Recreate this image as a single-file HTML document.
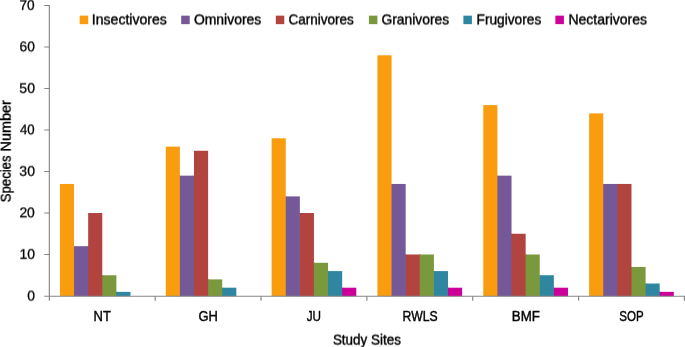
<!DOCTYPE html>
<html><head><meta charset="utf-8"><title>Species Number by Study Sites</title>
<style>
html,body{margin:0;padding:0;background:#fff;}
body{width:685px;height:347px;overflow:hidden;}
svg{display:block;will-change:transform;}
text{font-family:"Liberation Sans",sans-serif;fill:#000;stroke:#000;stroke-width:0.4;}
text.d{text-rendering:geometricPrecision;stroke-width:0.3;}
</style></head><body>
<svg width="685" height="347" viewBox="0 0 685 347">
<defs>
<filter id="v9" x="-15%" y="-25%" width="130%" height="150%"><feConvolveMatrix order="1 2" kernelMatrix="0.55 0.45" divisor="1" targetX="0" targetY="1" edgeMode="none" preserveAlpha="false"/></filter>
<filter id="v1" x="-15%" y="-25%" width="130%" height="150%"><feConvolveMatrix order="1 2" kernelMatrix="0.95 0.05" divisor="1" targetX="0" targetY="1" edgeMode="none" preserveAlpha="false"/></filter>
<filter id="v13" x="-15%" y="-25%" width="130%" height="150%"><feConvolveMatrix order="1 2" kernelMatrix="0.35 0.65" divisor="1" targetX="0" targetY="1" edgeMode="none" preserveAlpha="false"/></filter>
<filter id="v15" x="-15%" y="-25%" width="130%" height="150%"><feConvolveMatrix order="1 2" kernelMatrix="0.25 0.75" divisor="1" targetX="0" targetY="1" edgeMode="none" preserveAlpha="false"/></filter>
<filter id="v5" x="-15%" y="-25%" width="130%" height="150%"><feConvolveMatrix order="1 2" kernelMatrix="0.75 0.25" divisor="1" targetX="0" targetY="1" edgeMode="none" preserveAlpha="false"/></filter>
<filter id="h14" x="-25%" y="-10%" width="150%" height="120%"><feConvolveMatrix order="2 1" kernelMatrix="0.30 0.70" divisor="1" targetX="1" targetY="0" edgeMode="none" preserveAlpha="false"/></filter>
</defs>
<rect x="0" y="0" width="685" height="347" fill="#ffffff"/>
<g>
<rect x="73.45" y="246.20" width="1.6" height="50.00" fill="#F99C0E"/>
<rect x="87.56" y="246.20" width="1.6" height="50.00" fill="#745898"/>
<rect x="101.67" y="275.25" width="1.6" height="20.95" fill="#B24440"/>
<rect x="115.78" y="291.85" width="1.6" height="4.35" fill="#7A983C"/>
<rect x="179.29" y="175.65" width="1.6" height="120.55" fill="#F99C0E"/>
<rect x="193.40" y="175.65" width="1.6" height="120.55" fill="#745898"/>
<rect x="207.51" y="279.40" width="1.6" height="16.80" fill="#B24440"/>
<rect x="221.62" y="287.70" width="1.6" height="8.50" fill="#7A983C"/>
<rect x="285.13" y="196.40" width="1.6" height="99.80" fill="#F99C0E"/>
<rect x="299.24" y="213.00" width="1.6" height="83.20" fill="#745898"/>
<rect x="313.35" y="262.80" width="1.6" height="33.40" fill="#B24440"/>
<rect x="327.47" y="271.10" width="1.6" height="25.10" fill="#7A983C"/>
<rect x="341.58" y="287.70" width="1.6" height="8.50" fill="#2E86A0"/>
<rect x="390.97" y="183.95" width="1.6" height="112.25" fill="#F99C0E"/>
<rect x="405.08" y="254.50" width="1.6" height="41.70" fill="#745898"/>
<rect x="419.20" y="254.50" width="1.6" height="41.70" fill="#B24440"/>
<rect x="433.31" y="271.10" width="1.6" height="25.10" fill="#7A983C"/>
<rect x="447.42" y="287.70" width="1.6" height="8.50" fill="#2E86A0"/>
<rect x="496.81" y="175.65" width="1.6" height="120.55" fill="#F99C0E"/>
<rect x="510.93" y="233.75" width="1.6" height="62.45" fill="#745898"/>
<rect x="525.04" y="254.50" width="1.6" height="41.70" fill="#B24440"/>
<rect x="539.15" y="275.25" width="1.6" height="20.95" fill="#7A983C"/>
<rect x="553.26" y="287.70" width="1.6" height="8.50" fill="#2E86A0"/>
<rect x="602.65" y="183.95" width="1.6" height="112.25" fill="#F99C0E"/>
<rect x="616.77" y="183.95" width="1.6" height="112.25" fill="#745898"/>
<rect x="630.88" y="266.95" width="1.6" height="29.25" fill="#B24440"/>
<rect x="644.99" y="283.55" width="1.6" height="12.65" fill="#7A983C"/>
<rect x="659.10" y="291.85" width="1.6" height="4.35" fill="#2E86A0"/>
<rect x="59.93" y="183.95" width="14.11" height="112.25" fill="#F99C0E"/>
<rect x="74.05" y="246.20" width="14.11" height="50.00" fill="#745898"/>
<rect x="88.16" y="213.00" width="14.11" height="83.20" fill="#B24440"/>
<rect x="102.27" y="275.25" width="14.11" height="20.95" fill="#7A983C"/>
<rect x="116.38" y="291.85" width="14.11" height="4.35" fill="#2E86A0"/>
<rect x="165.78" y="146.60" width="14.11" height="149.60" fill="#F99C0E"/>
<rect x="179.89" y="175.65" width="14.11" height="120.55" fill="#745898"/>
<rect x="194.00" y="150.75" width="14.11" height="145.45" fill="#B24440"/>
<rect x="208.11" y="279.40" width="14.11" height="16.80" fill="#7A983C"/>
<rect x="222.22" y="287.70" width="14.11" height="8.50" fill="#2E86A0"/>
<rect x="271.62" y="138.30" width="14.11" height="157.90" fill="#F99C0E"/>
<rect x="285.73" y="196.40" width="14.11" height="99.80" fill="#745898"/>
<rect x="299.84" y="213.00" width="14.11" height="83.20" fill="#B24440"/>
<rect x="313.95" y="262.80" width="14.11" height="33.40" fill="#7A983C"/>
<rect x="328.07" y="271.10" width="14.11" height="25.10" fill="#2E86A0"/>
<rect x="342.18" y="287.70" width="14.11" height="8.50" fill="#CC0099"/>
<rect x="377.46" y="55.30" width="14.11" height="240.90" fill="#F99C0E"/>
<rect x="391.57" y="183.95" width="14.11" height="112.25" fill="#745898"/>
<rect x="405.68" y="254.50" width="14.11" height="41.70" fill="#B24440"/>
<rect x="419.80" y="254.50" width="14.11" height="41.70" fill="#7A983C"/>
<rect x="433.91" y="271.10" width="14.11" height="25.10" fill="#2E86A0"/>
<rect x="448.02" y="287.70" width="14.11" height="8.50" fill="#CC0099"/>
<rect x="483.30" y="105.10" width="14.11" height="191.10" fill="#F99C0E"/>
<rect x="497.41" y="175.65" width="14.11" height="120.55" fill="#745898"/>
<rect x="511.53" y="233.75" width="14.11" height="62.45" fill="#B24440"/>
<rect x="525.64" y="254.50" width="14.11" height="41.70" fill="#7A983C"/>
<rect x="539.75" y="275.25" width="14.11" height="20.95" fill="#2E86A0"/>
<rect x="553.86" y="287.70" width="14.11" height="8.50" fill="#CC0099"/>
<rect x="589.14" y="113.40" width="14.11" height="182.80" fill="#F99C0E"/>
<rect x="603.25" y="183.95" width="14.11" height="112.25" fill="#745898"/>
<rect x="617.37" y="183.95" width="14.11" height="112.25" fill="#B24440"/>
<rect x="631.48" y="266.95" width="14.11" height="29.25" fill="#7A983C"/>
<rect x="645.59" y="283.55" width="14.11" height="12.65" fill="#2E86A0"/>
<rect x="659.70" y="291.85" width="14.11" height="4.35" fill="#CC0099"/>
</g>
<g stroke="#868686" stroke-width="1.15" fill="none">
<line x1="49.35" y1="4.90" x2="49.35" y2="300.70"/>
<line x1="44.25" y1="296.20" x2="685.0" y2="296.20"/>
<line x1="44.25" y1="254.50" x2="49.35" y2="254.50" stroke-width="1.0"/>
<line x1="44.25" y1="213.00" x2="49.35" y2="213.00" stroke-width="1.0"/>
<line x1="44.25" y1="171.50" x2="49.35" y2="171.50" stroke-width="1.0"/>
<line x1="44.25" y1="130.00" x2="49.35" y2="130.00" stroke-width="1.0"/>
<line x1="44.25" y1="88.50" x2="49.35" y2="88.50" stroke-width="1.0"/>
<line x1="44.25" y1="47.00" x2="49.35" y2="47.00" stroke-width="1.0"/>
<line x1="44.25" y1="5.50" x2="49.35" y2="5.50" stroke-width="1.0"/>
<line x1="155.19" y1="296.20" x2="155.19" y2="300.70"/>
<line x1="261.03" y1="296.20" x2="261.03" y2="300.70"/>
<line x1="366.88" y1="296.20" x2="366.88" y2="300.70"/>
<line x1="472.72" y1="296.20" x2="472.72" y2="300.70"/>
<line x1="578.56" y1="296.20" x2="578.56" y2="300.70"/>
<line x1="684.40" y1="296.20" x2="684.40" y2="300.70"/>
</g>
<g filter="url(#v9)"><text id="L0" x="91.87" y="24" font-size="14.2" textLength="74.97" lengthAdjust="spacingAndGlyphs">Insectivores</text></g>
<g filter="url(#v9)"><text id="L1" x="193.91" y="24" font-size="14.2" textLength="67.41" lengthAdjust="spacingAndGlyphs">Omnivores</text></g>
<g filter="url(#v9)"><text id="L2" x="288.43" y="24" font-size="14.2" textLength="65.32" lengthAdjust="spacingAndGlyphs">Carnivores</text></g>
<g filter="url(#v9)"><text id="L3" x="381.52" y="24" font-size="14.2" textLength="67.58" lengthAdjust="spacingAndGlyphs">Granivores</text></g>
<g filter="url(#v9)"><text id="L4" x="476.53" y="24" font-size="14.2" textLength="64.76" lengthAdjust="spacingAndGlyphs">Frugivores</text></g>
<g filter="url(#v9)"><text id="L5" x="568.39" y="24" font-size="14.2" textLength="78.62" lengthAdjust="spacingAndGlyphs">Nectarivores</text></g>
<g filter="url(#v1)"><text id="C0" x="93.62" y="321" font-size="14.2" textLength="17.36" lengthAdjust="spacingAndGlyphs">NT</text></g>
<g filter="url(#v1)"><text id="C1" x="198.40" y="321" font-size="14.2" textLength="19.43" lengthAdjust="spacingAndGlyphs">GH</text></g>
<g filter="url(#v1)"><text id="C2" x="306.77" y="321" font-size="14.2" textLength="14.31" lengthAdjust="spacingAndGlyphs">JU</text></g>
<g filter="url(#v1)"><text id="C3" x="402.54" y="321" font-size="14.2" textLength="35.04" lengthAdjust="spacingAndGlyphs">RWLS</text></g>
<g filter="url(#v1)"><text id="C4" x="511.85" y="321" font-size="14.2" textLength="28.13" lengthAdjust="spacingAndGlyphs">BMF</text></g>
<g filter="url(#v1)"><text id="C5" x="619.29" y="321" font-size="14.2" textLength="24.41" lengthAdjust="spacingAndGlyphs">SOP</text></g>
<g filter="url(#v13)"><text id="XT" x="332.92" y="344" font-size="14.2" textLength="67.94" lengthAdjust="spacingAndGlyphs">Study Sites</text></g>
<g filter="url(#v9)"><text id="Y0" class="d" x="27.19" y="300" font-size="13.9" textLength="7.74" lengthAdjust="spacingAndGlyphs">0</text></g>
<g filter="url(#v15)"><text id="Y10" class="d" x="19.62" y="258" font-size="13.9" textLength="15.51" lengthAdjust="spacingAndGlyphs">10</text></g>
<g filter="url(#v5)"><text id="Y20" class="d" x="19.40" y="217" font-size="13.9" textLength="15.45" lengthAdjust="spacingAndGlyphs">20</text></g>
<g filter="url(#v15)"><text id="Y30" class="d" x="19.35" y="175" font-size="13.9" textLength="15.58" lengthAdjust="spacingAndGlyphs">30</text></g>
<g filter="url(#v5)"><text id="Y40" class="d" x="19.99" y="134" font-size="13.9" textLength="14.70" lengthAdjust="spacingAndGlyphs">40</text></g>
<g filter="url(#v15)"><text id="Y50" class="d" x="19.35" y="92" font-size="13.9" textLength="15.60" lengthAdjust="spacingAndGlyphs">50</text></g>
<g filter="url(#v5)"><text id="Y60" class="d" x="19.51" y="51" font-size="13.9" textLength="15.29" lengthAdjust="spacingAndGlyphs">60</text></g>
<g filter="url(#v15)"><text id="Y70" class="d" x="19.50" y="9" font-size="13.9" textLength="15.18" lengthAdjust="spacingAndGlyphs">70</text></g>
<g filter="url(#h14)"><text id="R0" transform="translate(10,202.14) rotate(-90)" x="0" y="0" font-size="14.2" textLength="46.59" lengthAdjust="spacingAndGlyphs">Species</text></g>
<g filter="url(#h14)"><text id="R1" transform="translate(10,151.56) rotate(-90)" x="0" y="0" font-size="14.2" textLength="51.45" lengthAdjust="spacingAndGlyphs">Number</text></g>
<rect x="79.70" y="15.65" width="8.5" height="8.5" fill="#F99C0E"/>
<rect x="181.20" y="15.65" width="8.5" height="8.5" fill="#745898"/>
<rect x="275.80" y="15.65" width="8.5" height="8.5" fill="#B24440"/>
<rect x="368.90" y="15.65" width="8.5" height="8.5" fill="#7A983C"/>
<rect x="463.40" y="15.65" width="8.5" height="8.5" fill="#2E86A0"/>
<rect x="555.40" y="15.65" width="8.5" height="8.5" fill="#CC0099"/>
</svg>
</body></html>
